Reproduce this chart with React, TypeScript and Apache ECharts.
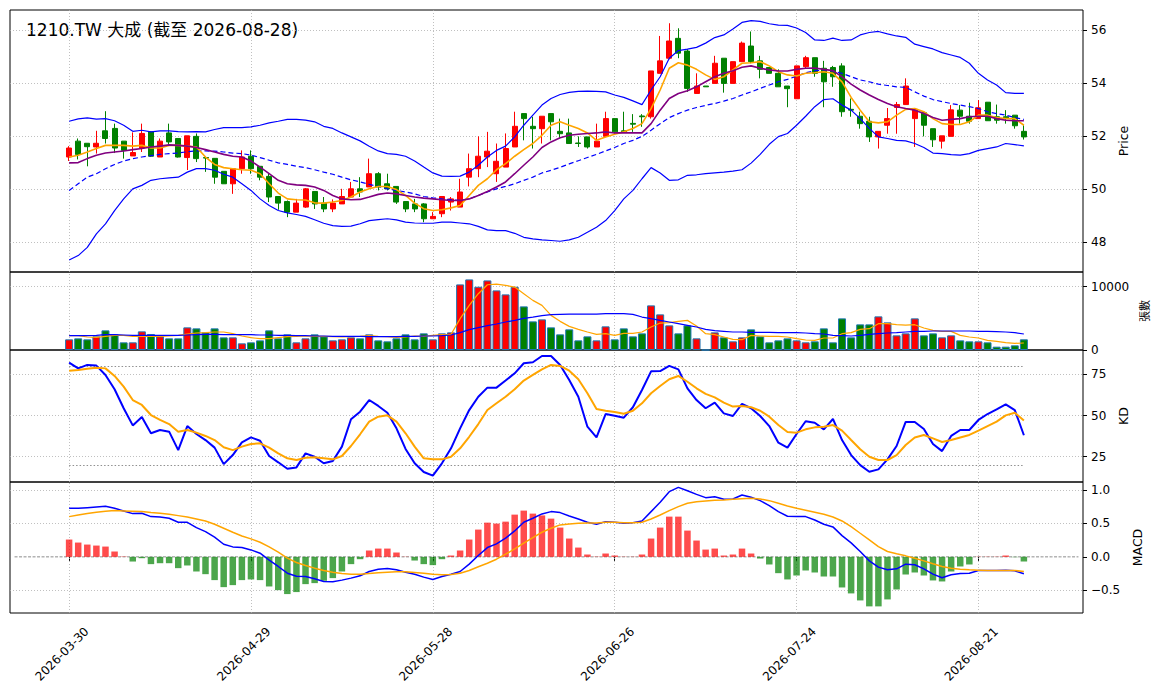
import { useEffect, useRef } from 'react'
import * as echarts from 'echarts'

const TITLE = '1210.TW 大成 (截至 2026-08-28)'
const FONT = '"DejaVu Sans", "Noto Sans CJK TC", sans-serif'

// trading days shown on the chart
const dates = [
  '2026-03-30', '2026-03-31', '2026-04-01', '2026-04-02', '2026-04-07', '2026-04-08', '2026-04-09', '2026-04-10',
  '2026-04-13', '2026-04-14', '2026-04-15', '2026-04-16', '2026-04-17', '2026-04-20', '2026-04-21', '2026-04-22',
  '2026-04-23', '2026-04-24', '2026-04-27', '2026-04-28', '2026-04-29', '2026-04-30', '2026-05-04', '2026-05-05',
  '2026-05-06', '2026-05-07', '2026-05-08', '2026-05-11', '2026-05-12', '2026-05-13', '2026-05-14', '2026-05-15',
  '2026-05-18', '2026-05-19', '2026-05-20', '2026-05-21', '2026-05-22', '2026-05-25', '2026-05-26', '2026-05-27',
  '2026-05-28', '2026-05-29', '2026-06-01', '2026-06-02', '2026-06-03', '2026-06-04', '2026-06-05', '2026-06-08',
  '2026-06-09', '2026-06-10', '2026-06-11', '2026-06-12', '2026-06-15', '2026-06-16', '2026-06-17', '2026-06-18',
  '2026-06-22', '2026-06-23', '2026-06-24', '2026-06-25', '2026-06-26', '2026-06-29', '2026-06-30', '2026-07-01',
  '2026-07-02', '2026-07-03', '2026-07-06', '2026-07-07', '2026-07-08', '2026-07-09', '2026-07-10', '2026-07-13',
  '2026-07-14', '2026-07-15', '2026-07-16', '2026-07-17', '2026-07-20', '2026-07-21', '2026-07-22', '2026-07-23',
  '2026-07-24', '2026-07-27', '2026-07-28', '2026-07-29', '2026-07-30', '2026-07-31', '2026-08-03', '2026-08-04',
  '2026-08-05', '2026-08-06', '2026-08-07', '2026-08-10', '2026-08-11', '2026-08-12', '2026-08-13', '2026-08-14',
  '2026-08-17', '2026-08-18', '2026-08-19', '2026-08-20', '2026-08-21', '2026-08-24', '2026-08-25', '2026-08-26',
  '2026-08-27', '2026-08-28',
]

const opens = [
  51.22, 51.82, 51.74, 51.6, 52.21, 52.3, 51.82, 51.26, 51.56, 52.17, 51.22, 52.13, 51.92, 51.2, 52.0, 51.2, 51.17, 50.68, 50.21, 50.78,
  51.25, 50.87, 50.49, 49.73, 49.54, 49.14, 49.33, 49.92, 49.48, 49.26, 49.45, 49.71, 50.02, 50.09, 50.59, 50.21, 50.11, 49.54, 49.45, 49.45,
  48.89, 49.08, 49.52, 49.33, 50.46, 50.78, 51.22, 50.59, 50.84, 51.6, 52.86, 52.38, 52.29, 52.86, 52.19, 52.13, 51.75, 51.98, 51.6, 52.0,
  52.67, 52.21, 52.49, 52.77, 52.74, 54.38, 54.95, 55.7, 55.22, 53.62, 53.9, 54.0, 54.95, 54.0, 54.82, 55.41, 54.85, 54.6, 54.38, 53.9,
  53.42, 54.63, 54.97, 54.57, 54.6, 54.66, 53.02, 52.76, 52.57, 51.98, 52.42, 53.09, 53.2, 52.67, 52.89, 52.29, 51.82, 52.0, 52.99, 52.76,
  52.67, 53.29, 52.74, 52.74, 52.8, 52.19,
]
const closes = [
  51.56, 51.32, 51.61, 51.74, 51.92, 51.56, 51.47, 51.39, 52.11, 51.25, 51.82, 51.79, 51.22, 52.02, 51.16, 51.18, 50.46, 50.21, 50.78, 51.22,
  50.78, 50.46, 49.71, 49.48, 49.14, 49.48, 50.02, 49.45, 49.26, 49.48, 49.73, 50.02, 49.9, 50.59, 50.09, 50.02, 49.52, 49.26, 49.26, 48.89,
  48.98, 49.73, 49.64, 49.9, 50.78, 51.25, 51.44, 51.06, 51.54, 52.38, 52.67, 52.29, 52.76, 52.55, 52.1, 51.73, 51.73, 51.6, 51.82, 52.67,
  52.17, 52.17, 52.46, 52.74, 54.47, 54.85, 55.6, 55.14, 53.81, 53.9, 53.87, 54.76, 54.0, 54.82, 55.52, 54.82, 54.53, 54.38, 53.87, 53.8,
  54.66, 54.97, 54.38, 54.06, 54.25, 52.93, 52.99, 52.48, 51.98, 52.19, 52.67, 53.2, 53.9, 53.02, 52.42, 51.87, 52.02, 53.0, 52.76, 52.57,
  53.08, 52.59, 52.61, 52.67, 52.4, 51.98,
]
const lows = [
  51.07, 51.13, 50.87, 51.35, 51.73, 51.37, 51.16, 51.26, 51.41, 51.22, 51.22, 51.66, 51.2, 50.73, 51.03, 50.66, 50.21, 50.21, 49.83, 50.59,
  50.59, 50.34, 49.52, 49.23, 48.95, 49.14, 49.3, 49.26, 49.14, 49.14, 49.45, 49.71, 49.71, 50.09, 49.96, 49.96, 49.45, 49.14, 49.14, 48.76,
  48.89, 48.95, 49.2, 49.33, 50.11, 50.46, 50.84, 50.28, 50.84, 51.6, 51.85, 51.54, 51.73, 51.85, 51.92, 51.73, 51.6, 51.54, 51.6, 52.0,
  52.1, 52.17, 52.17, 52.36, 52.67, 54.38, 54.91, 54.95, 53.68, 53.62, 53.87, 54.0, 53.65, 54.0, 54.82, 54.76, 54.19, 54.38, 53.87, 53.1,
  53.42, 54.57, 54.25, 53.1, 53.87, 52.74, 52.74, 52.29, 51.79, 51.54, 52.1, 52.1, 53.2, 51.6, 52.0, 51.6, 51.54, 52.0, 52.48, 52.48,
  52.67, 52.59, 52.48, 52.48, 52.29, 51.88,
]
const highs = [
  51.63, 51.92, 51.74, 52.21, 52.95, 52.48, 51.82, 52.15, 52.48, 52.2, 51.92, 52.48, 51.92, 52.02, 52.11, 51.21, 51.17, 50.68, 50.78, 51.47,
  51.47, 50.87, 50.59, 49.73, 49.58, 49.64, 50.05, 49.92, 49.71, 49.62, 50.02, 50.28, 50.46, 51.16, 50.65, 50.59, 50.11, 49.54, 49.64, 49.48,
  49.14, 49.73, 49.71, 50.4, 51.35, 52.0, 52.17, 51.73, 52.11, 52.93, 52.86, 52.74, 52.76, 52.86, 52.67, 52.67, 52.0, 51.98, 52.48, 52.93,
  52.67, 52.93, 52.84, 52.84, 54.47, 55.79, 56.27, 56.08, 55.29, 54.38, 53.9, 55.04, 54.95, 54.82, 55.58, 55.96, 55.04, 54.6, 54.53, 53.9,
  54.66, 55.04, 54.97, 54.85, 54.66, 54.76, 53.43, 52.93, 52.74, 52.19, 53.07, 53.3, 54.19, 53.02, 52.89, 52.29, 52.02, 53.18, 53.18, 53.27,
  53.37, 53.29, 53.2, 52.99, 52.8, 52.42,
]

// Bollinger band (20) and moving averages on the close
const bbUpper = [
  52.57, 52.66, 52.7, 52.65, 52.67, 52.59, 52.42, 52.19, 52.23, 52.17, 52.21, 52.21, 52.18, 52.17, 52.18, 52.17, 52.26, 52.33, 52.33, 52.33,
  52.36, 52.42, 52.51, 52.57, 52.64, 52.64, 52.61, 52.55, 52.38, 52.3, 52.13, 51.98, 51.83, 51.63, 51.45, 51.35, 51.32, 51.25, 51.07, 50.84,
  50.62, 50.5, 50.49, 50.5, 50.65, 50.91, 51.22, 51.47, 51.63, 51.98, 52.42, 52.8, 53.18, 53.43, 53.58, 53.66, 53.7, 53.71, 53.7, 53.68,
  53.56, 53.47, 53.34, 53.2, 53.75, 54.25, 54.95, 55.24, 55.29, 55.36, 55.52, 55.73, 55.83, 56.05, 56.3, 56.37, 56.34, 56.25, 56.2, 56.19,
  56.09, 55.92, 55.64, 55.62, 55.71, 55.62, 55.64, 55.83, 55.92, 55.96, 55.87, 55.79, 55.74, 55.48, 55.39, 55.3, 55.16, 55.07, 54.98, 54.76,
  54.38, 54.13, 53.94, 53.65, 53.62, 53.62,
]
const bbMid = [
  49.96, 50.21, 50.46, 50.59, 50.78, 50.94, 51.07, 51.16, 51.22, 51.27, 51.32, 51.35, 51.37, 51.42, 51.45, 51.45, 51.44, 51.41, 51.37, 51.35,
  51.29, 51.2, 51.1, 51.0, 50.94, 50.87, 50.82, 50.74, 50.65, 50.57, 50.46, 50.36, 50.28, 50.19, 50.11, 50.02, 49.96, 49.9, 49.83, 49.73,
  49.68, 49.64, 49.61, 49.58, 49.64, 49.77, 49.9, 50.02, 50.11, 50.21, 50.34, 50.46, 50.62, 50.72, 50.83, 50.96, 51.08, 51.2, 51.32, 51.45,
  51.58, 51.73, 51.85, 52.0, 52.23, 52.48, 52.71, 52.86, 52.99, 53.09, 53.17, 53.24, 53.33, 53.43, 53.56, 53.68, 53.81, 53.94, 54.06, 54.15,
  54.27, 54.4, 54.48, 54.51, 54.47, 54.38, 54.25, 54.13, 54.06, 53.97, 53.92, 53.87, 53.85, 53.68, 53.52, 53.39, 53.31, 53.24, 53.18, 53.12,
  53.05, 52.93, 52.86, 52.8, 52.71, 52.64,
]
const bbLower = [
  47.33, 47.5, 47.81, 48.32, 48.7, 49.2, 49.64, 50.02, 50.15, 50.34, 50.4, 50.43, 50.46, 50.65, 50.78, 50.78, 50.72, 50.57, 50.46, 50.21,
  49.96, 49.64, 49.39, 49.2, 49.11, 49.05, 48.98, 48.85, 48.72, 48.63, 48.6, 48.61, 48.7, 48.82, 48.86, 48.89, 48.85, 48.76, 48.73, 48.72,
  48.72, 48.76, 48.76, 48.73, 48.7, 48.6, 48.47, 48.44, 48.44, 48.34, 48.19, 48.13, 48.09, 48.07, 48.04, 48.09, 48.19, 48.38, 48.57, 48.82,
  49.2, 49.64, 49.96, 50.4, 50.82, 50.62, 50.34, 50.36, 50.53, 50.55, 50.59, 50.62, 50.65, 50.69, 50.74, 50.99, 51.32, 51.7, 51.99, 52.11,
  52.42, 52.76, 53.12, 53.39, 53.42, 53.18, 52.99, 52.67, 52.3, 51.98, 51.92, 51.85, 51.83, 51.73, 51.58, 51.37, 51.35, 51.31, 51.29, 51.35,
  51.47, 51.54, 51.6, 51.73, 51.69, 51.64,
]
const ma5 = [
  51.22, 51.29, 51.41, 51.54, 51.66, 51.66, 51.66, 51.63, 51.66, 51.56, 51.56, 51.66, 51.66, 51.63, 51.6, 51.22, 50.94, 50.82, 50.78, 50.74,
  50.72, 50.59, 50.21, 49.86, 49.64, 49.61, 49.6, 49.49, 49.48, 49.52, 49.58, 49.71, 49.9, 50.02, 50.11, 50.11, 49.99, 49.77, 49.48, 49.27,
  49.2, 49.23, 49.3, 49.39, 49.77, 50.15, 50.4, 50.74, 50.97, 51.25, 51.5, 51.73, 52.04, 52.42, 52.55, 52.42, 52.3, 52.13, 51.85, 51.98,
  52.08, 52.17, 52.3, 52.48, 53.05, 53.75, 54.57, 54.78, 54.69, 54.53, 54.32, 54.15, 54.25, 54.51, 54.76, 54.78, 54.82, 54.66, 54.44, 54.32,
  54.28, 54.38, 54.4, 54.44, 54.38, 54.06, 53.47, 52.99, 52.55, 52.51, 52.55, 52.8, 53.02, 53.05, 52.93, 52.67, 52.48, 52.45, 52.45, 52.55,
  52.8, 52.8, 52.71, 52.67, 52.67, 52.42,
]
const ma10 = [
  51.0, 51.01, 51.16, 51.29, 51.37, 51.41, 51.45, 51.5, 51.54, 51.6, 51.63, 51.68, 51.66, 51.63, 51.58, 51.5, 51.41, 51.32, 51.25, 51.22,
  51.07, 50.84, 50.59, 50.34, 50.21, 50.17, 50.15, 50.09, 49.96, 49.77, 49.64, 49.61, 49.62, 49.71, 49.81, 49.86, 49.83, 49.77, 49.71, 49.67,
  49.64, 49.61, 49.58, 49.58, 49.64, 49.77, 49.92, 50.09, 50.28, 50.59, 50.91, 51.22, 51.58, 51.79, 51.95, 52.04, 52.08, 52.11, 52.13, 52.17,
  52.13, 52.13, 52.13, 52.13, 52.48, 52.99, 53.43, 53.62, 53.72, 53.87, 54.06, 54.25, 54.38, 54.48, 54.61, 54.66, 54.57, 54.51, 54.47, 54.47,
  54.53, 54.57, 54.58, 54.53, 54.48, 54.25, 53.97, 53.75, 53.56, 53.39, 53.24, 53.12, 53.05, 52.99, 52.86, 52.71, 52.61, 52.64, 52.67, 52.74,
  52.76, 52.76, 52.67, 52.61, 52.59, 52.59,
]

// volume (張) and its moving averages
const volumes = [
  1683, 1841, 1683, 2157, 3104, 2472, 1210, 1210, 2946, 2525, 2157, 1841, 1841, 3577, 3419, 2788, 3419, 1999, 1999, 1052,
  1210, 1525, 3104, 1841, 2472, 1210, 1841, 2472, 2157, 1525, 1683, 1999, 1841, 2472, 1525, 1368, 1841, 2472, 1683, 2630,
  1683, 2630, 2788, 10362, 11151, 9994, 10993, 9415, 8784, 9994, 6891, 4524, 4839, 3577, 2472, 3261, 1525, 2157, 1525, 3735,
  1683, 3419, 2157, 2630, 7048, 5628, 3892, 2630, 3892, 1841, 0, 2788, 1999, 1368, 1999, 3261, 2157, 1210, 1525, 1841,
  1525, 1210, 1368, 3419, 1210, 4997, 1999, 4050, 4050, 5313, 4366, 2314, 2630, 4997, 2314, 2630, 1999, 2314, 1525, 1368,
  1368, 1210, 526, 526, 736, 1683,
]
const volMa5 = [
  2262, 2262, 2051, 1999, 2157, 2314, 2314, 2157, 2157, 2157, 2157, 2209, 2314, 2525, 2683, 2735, 2840, 2840, 2577, 2209,
  1946, 1788, 1788, 1946, 2104, 2157, 2209, 2157, 2157, 2104, 2051, 2104, 2157, 2262, 2157, 2104, 1999, 2051, 2209, 2157,
  2314, 2420, 2472, 4944, 7048, 8889, 10310, 10415, 10204, 9941, 8889, 7837, 7048, 5470, 4524, 3735, 3261, 2840, 2472, 2577,
  2314, 2630, 2630, 2840, 3629, 4261, 4313, 4524, 4681, 3787, 2577, 2420, 2051, 1683, 1631, 2314, 2209, 2157, 2157, 2051,
  1788, 1578, 1525, 1894, 1894, 2577, 2735, 3261, 3366, 4155, 4155, 3998, 3945, 3998, 3472, 3103, 2946, 2946, 2314, 2051,
  1894, 1525, 1368, 1157, 1052, 1105,
]
const volMa20 = [
  2262, 2262, 2262, 2314, 2420, 2420, 2367, 2314, 2314, 2314, 2314, 2314, 2314, 2367, 2420, 2472, 2472, 2420, 2420, 2420,
  2420, 2367, 2367, 2314, 2314, 2262, 2262, 2209, 2209, 2157, 2157, 2157, 2157, 2104, 2104, 2104, 2104, 2157, 2157, 2209,
  2209, 2262, 2367, 2735, 3209, 3524, 3840, 4103, 4418, 4681, 4997, 5207, 5418, 5576, 5629, 5681, 5681, 5681, 5681, 5734,
  5734, 5734, 5629, 5207, 4944, 4681, 4418, 4155, 3892, 3629, 3261, 3050, 2946, 2840, 2840, 2788, 2788, 2788, 2735, 2735,
  2735, 2683, 2577, 2525, 2314, 2262, 2209, 2314, 2472, 2577, 2683, 2735, 2840, 2946, 2946, 2998, 2998, 2998, 2998, 2998,
  2946, 2946, 2893, 2840, 2735, 2525,
]

// stochastic K / D
const kLine = [
  82.1, 78.6, 80.7, 80.3, 74.6, 65.9, 54.4, 44.0, 49.1, 39.2, 41.2, 40.2, 29.0, 43.6, 38.8, 35.1, 30.5, 20.5, 26.0, 33.7,
  36.7, 34.7, 25.4, 21.6, 17.7, 18.5, 27.0, 25.0, 21.0, 22.4, 31.1, 47.7, 52.3, 59.4, 55.8, 51.7, 42.2, 29.7, 21.0, 15.7,
  13.5, 21.0, 30.1, 42.2, 53.3, 61.4, 66.9, 66.9, 71.2, 75.6, 81.7, 82.3, 86.1, 86.1, 80.7, 71.6, 61.4, 43.2, 36.7, 50.9,
  49.9, 48.7, 55.0, 65.5, 76.8, 77.0, 80.1, 78.0, 66.5, 59.4, 54.4, 57.8, 51.3, 49.7, 57.0, 54.4, 49.7, 43.6, 33.5, 30.5,
  38.8, 46.5, 45.6, 41.6, 47.9, 35.1, 26.0, 19.9, 15.9, 17.3, 23.4, 31.5, 46.1, 46.1, 41.8, 32.7, 28.4, 37.6, 41.2, 41.2,
  47.3, 50.9, 53.7, 56.8, 53.3, 38.0,
]
const dLine = [
  77.2, 77.6, 78.4, 79.0, 78.6, 74.0, 67.5, 59.4, 56.4, 50.3, 47.3, 44.8, 40.2, 41.2, 39.6, 37.6, 35.1, 30.7, 29.0, 31.1,
  32.7, 33.1, 30.5, 27.0, 24.0, 23.0, 24.4, 24.6, 24.0, 23.4, 25.4, 31.5, 38.6, 46.3, 49.3, 50.1, 46.3, 39.2, 31.1, 24.0,
  23.4, 23.4, 25.0, 30.1, 37.1, 44.8, 53.3, 57.4, 61.4, 65.9, 71.2, 74.6, 78.0, 80.7, 80.1, 77.2, 72.0, 63.5, 53.9, 52.9,
  52.1, 51.1, 52.9, 57.4, 63.5, 67.9, 72.0, 74.0, 70.5, 66.5, 63.1, 61.0, 57.8, 55.4, 55.8, 55.0, 52.9, 49.3, 44.2, 40.0,
  39.6, 41.6, 42.8, 43.2, 44.2, 40.8, 35.1, 29.5, 25.0, 23.0, 23.0, 26.0, 32.1, 36.7, 38.2, 36.1, 33.9, 35.1, 36.7, 38.2,
  40.8, 43.6, 46.3, 50.1, 51.7, 46.9,
]

// MACD
const dif = [
  0.726, 0.726, 0.736, 0.746, 0.756, 0.726, 0.687, 0.647, 0.652, 0.602, 0.597, 0.577, 0.517, 0.517, 0.438, 0.378, 0.294, 0.189, 0.149, 0.139,
  0.104, 0.055, -0.05, -0.144, -0.244, -0.289, -0.294, -0.328, -0.368, -0.373, -0.348, -0.318, -0.284, -0.219, -0.184, -0.174, -0.194, -0.229, -0.259, -0.303,
  -0.338, -0.294, -0.259, -0.219, -0.109, 0.02, 0.139, 0.194, 0.279, 0.388, 0.517, 0.577, 0.642, 0.677, 0.662, 0.612, 0.567, 0.517, 0.488, 0.527,
  0.517, 0.502, 0.512, 0.537, 0.677, 0.816, 0.975, 1.04, 0.99, 0.935, 0.886, 0.9, 0.861, 0.866, 0.925, 0.891, 0.841, 0.766, 0.677, 0.607,
  0.602, 0.602, 0.552, 0.488, 0.448, 0.318, 0.209, 0.08, -0.06, -0.154, -0.194, -0.179, -0.109, -0.119, -0.179, -0.259, -0.313, -0.269, -0.249, -0.244,
  -0.204, -0.204, -0.204, -0.199, -0.209, -0.254,
]
const dea = [
  0.602, 0.627, 0.647, 0.667, 0.682, 0.692, 0.687, 0.682, 0.677, 0.662, 0.652, 0.637, 0.617, 0.597, 0.567, 0.537, 0.488, 0.428, 0.368, 0.313,
  0.269, 0.219, 0.149, 0.07, -0.02, -0.085, -0.129, -0.169, -0.204, -0.229, -0.249, -0.259, -0.259, -0.249, -0.239, -0.229, -0.224, -0.224, -0.234, -0.244,
  -0.259, -0.269, -0.264, -0.244, -0.204, -0.149, -0.095, -0.035, 0.04, 0.119, 0.204, 0.289, 0.368, 0.428, 0.478, 0.493, 0.502, 0.507, 0.507, 0.517,
  0.517, 0.512, 0.512, 0.517, 0.567, 0.627, 0.692, 0.751, 0.801, 0.826, 0.836, 0.846, 0.851, 0.861, 0.871, 0.876, 0.866, 0.841, 0.801, 0.761,
  0.726, 0.697, 0.667, 0.637, 0.597, 0.537, 0.453, 0.353, 0.254, 0.154, 0.08, 0.045, 0.015, -0.02, -0.06, -0.104, -0.144, -0.169, -0.184, -0.194,
  -0.199, -0.204, -0.204, -0.204, -0.204, -0.219,
]
const macdHist = [
  0.259, 0.214, 0.184, 0.169, 0.154, 0.08, 0.005, -0.07, -0.02, -0.109, -0.095, -0.095, -0.169, -0.129, -0.219, -0.259, -0.348, -0.453, -0.423, -0.348,
  -0.338, -0.348, -0.443, -0.498, -0.557, -0.527, -0.408, -0.393, -0.358, -0.318, -0.219, -0.109, -0.035, 0.095, 0.124, 0.124, 0.065, 0.003, -0.055, -0.109,
  -0.124, -0.035, 0.02, 0.095, 0.259, 0.408, 0.512, 0.498, 0.527, 0.632, 0.692, 0.647, 0.62, 0.572, 0.438, 0.274, 0.139, 0.035, 0.004, 0.05,
  0.02, 0.003, 0.003, 0.035, 0.274, 0.438, 0.602, 0.602, 0.393, 0.244, 0.109, 0.124, 0.02, 0.035, 0.124, 0.05, -0.025, -0.114, -0.244, -0.338,
  -0.279, -0.204, -0.234, -0.294, -0.294, -0.458, -0.547, -0.652, -0.741, -0.741, -0.637, -0.488, -0.264, -0.234, -0.279, -0.353, -0.368, -0.219, -0.144, -0.114,
  0.003, 0.003, 0.003, 0.02, -0.005, -0.07,
]

const dateTickIdx = [0, 20, 40, 60, 80, 100]
const priceTicks = [48, 50, 52, 54, 56]
const volumeTicks = [0, 10000]
const kdTicks = [25, 50, 75]
const kdBands = [20, 80]
const macdTicks = [-0.5, 0, 0.5, 1.0]

// empty slots on both sides, like matplotlib's x margins
const PAD = 6
const cats = [
  ...Array.from({ length: PAD }, (_, k) => `padL${k}`),
  ...dates,
  ...Array.from({ length: PAD }, (_, k) => `padR${k}`),
]
const pad = (arr: any[], fill: any = '-') => [...Array(PAD).fill(fill), ...arr, ...Array(PAD).fill(fill)]

const GRID_COLOR = '#b0b0b0'

function gridMarks(yVals: number[], extra: any[] = []) {
  return {
    silent: true,
    symbol: ['none', 'none'],
    label: { show: false },
    z: 1,
    animation: false,
    lineStyle: { color: GRID_COLOR, width: 0.8, type: [1, 2] },
    data: [
      ...dateTickIdx.map(j => ({ xAxis: dates[j] })),
      ...yVals.map(v => ({ yAxis: v })),
      ...extra,
    ],
  }
}

function line(name: string, data: number[], gi: number, color: string, width: number, type: any = 'solid', extra: any = {}) {
  return {
    name,
    type: 'line',
    xAxisIndex: gi,
    yAxisIndex: gi,
    data: pad(data),
    symbol: 'none',
    lineStyle: { color, width, type },
    itemStyle: { color },
    z: 3,
    ...extra,
  }
}

function yAxisFor(gi: number, min: number, max: number, ticks: number[], name: string, nameGap: number, nameSize: number, fmt: (v: number) => string) {
  return {
    type: 'value',
    gridIndex: gi,
    position: 'right',
    min,
    max,
    name,
    nameLocation: 'middle',
    nameGap,
    nameRotate: 90,
    nameTextStyle: { fontSize: nameSize, color: '#000', fontFamily: FONT },
    axisLine: { show: false },
    splitLine: { show: false },
    axisTick: { show: true, customValues: ticks, length: 4, lineStyle: { color: '#000' } },
    axisLabel: { customValues: ticks, fontSize: 12, color: '#000', fontFamily: FONT, formatter: fmt },
  }
}

const isDateTick = (idx: number) => dateTickIdx.includes(idx - PAD)

export default function App() {
  const chartRef = useRef<HTMLDivElement>(null)

  useEffect(() => {
    if (!chartRef.current) return
    const chart = echarts.init(chartRef.current, null, { renderer: 'svg' })

    const candles = dates.map((_, i) => [opens[i], closes[i], lows[i], highs[i]])
    const volBars = volumes.map((v, i) => ({
      value: v,
      itemStyle: { color: closes[i] >= opens[i] ? '#ff0000' : '#008000' },
    }))
    const histBars = macdHist.map(v => ({
      value: v,
      itemStyle: { color: v >= 0 ? 'rgba(255,0,0,0.7)' : 'rgba(0,128,0,0.7)' },
    }))

    const grids = [
      { top: 10, height: 262 },
      { top: 272, height: 78 },
      { top: 350, height: 132 },
      { top: 482, height: 131 },
    ].map(g => ({ ...g, left: 10, width: 1073, show: true, borderColor: '#000', borderWidth: 1 }))

    const option = {
      animation: false,
      backgroundColor: '#fff',
      textStyle: { fontFamily: FONT },
      graphic: [
        {
          type: 'text',
          left: 26,
          top: 21,
          style: { text: TITLE, fontSize: 17, fill: '#000', fontFamily: FONT },
        },
      ],
      grid: grids,
      xAxis: [0, 1, 2, 3].map(gi => ({
        type: 'category',
        gridIndex: gi,
        data: cats,
        boundaryGap: true,
        axisLine: { show: false },
        splitLine: { show: false },
        axisTick: {
          show: gi === 3,
          interval: isDateTick,
          alignWithLabel: true,
          length: 4,
          lineStyle: { color: '#000' },
        },
        axisLabel: {
          show: gi === 3,
          interval: isDateTick,
          rotate: 45,
          align: 'center',
          verticalAlign: 'middle',
          padding: [0, 20, 0, 0],
          fontSize: 12,
          color: '#000',
          margin: 34,
          fontFamily: FONT,
        },
      })),
      yAxis: [
        yAxisFor(0, 46.88, 56.77, priceTicks, 'Price', 31, 12.5, v => String(v)),
        yAxisFor(1, 0, 12322, volumeTicks, '張數', 54, 11, v => String(v)),
        yAxisFor(2, 9.65, 89.75, kdTicks, 'KD', 31, 12.5, v => String(v)),
        yAxisFor(3, -0.84, 1.12, macdTicks, 'MACD', 38, 12.5, v => (v < 0 ? '\u2212' + Math.abs(v).toFixed(1) : v.toFixed(1))),
      ],
      series: [
        {
          name: 'K線',
          type: 'candlestick',
          xAxisIndex: 0,
          yAxisIndex: 0,
          data: pad(candles, ['-', '-', '-', '-']),
          barWidth: 5.5,
          itemStyle: {
            color: '#ff0000',
            color0: '#008000',
            borderColor: '#ff0000',
            borderColor0: '#008000',
            borderWidth: 1,
          },
          z: 2,
          markLine: gridMarks(priceTicks),
        },
        line('BB上軌', bbUpper, 0, '#0000ff', 1.2),
        line('BB中軌', bbMid, 0, '#0000ff', 1.2, [5, 3]),
        line('BB下軌', bbLower, 0, '#0000ff', 1.2),
        line('MA5', ma5, 0, '#ffa500', 1.6),
        line('MA10', ma10, 0, '#800080', 1.6),
        {
          name: '成交量',
          type: 'bar',
          xAxisIndex: 1,
          yAxisIndex: 1,
          data: pad(volBars),
          barWidth: 8,
          itemStyle: { borderColor: '#1f77b4', borderWidth: 1 },
          z: 2,
          markLine: gridMarks([10000]),
        },
        line('量MA5', volMa5, 1, '#ffa500', 1.2),
        line('量MA20', volMa20, 1, '#0000ff', 1.2),
        line('K', kLine, 2, '#0000ff', 2, 'solid', {
          markLine: gridMarks(kdTicks, kdBands.map(v => [
            { coord: [dates[0], v], lineStyle: { color: '#909090', width: 1, type: [1.5, 2] } },
            { coord: [dates[dates.length - 1], v] },
          ])),
        }),
        line('D', dLine, 2, '#ffa500', 2),
        {
          name: 'OSC',
          type: 'bar',
          xAxisIndex: 3,
          yAxisIndex: 3,
          data: pad(histBars),
          barWidth: 6.5,
          itemStyle: { color: '#808080' },
          z: 2,
          markLine: gridMarks([-0.5, 0.5, 1.0]),
        },
        {
          // zero reference line across the whole MACD panel
          name: 'zero',
          type: 'line',
          xAxisIndex: 3,
          yAxisIndex: 3,
          data: cats.map(() => 0),
          symbol: 'none',
          silent: true,
          lineStyle: { color: '#808080', width: 0.9, type: [3, 1.5] },
          itemStyle: { color: '#808080' },
          z: 1,
        },
        line('DIF', dif, 3, '#0000ff', 1.5),
        line('DEA', dea, 3, '#ffa500', 1.5),
      ],
    }

    chart.setOption(option as any)

    return () => {
      chart.dispose()
    }
  }, [])

  return (
    <div
      ref={chartRef}
      style={{ position: 'absolute', left: 0, top: 0, width: 1163, height: 698, background: '#fff' }}
    />
  )
}
